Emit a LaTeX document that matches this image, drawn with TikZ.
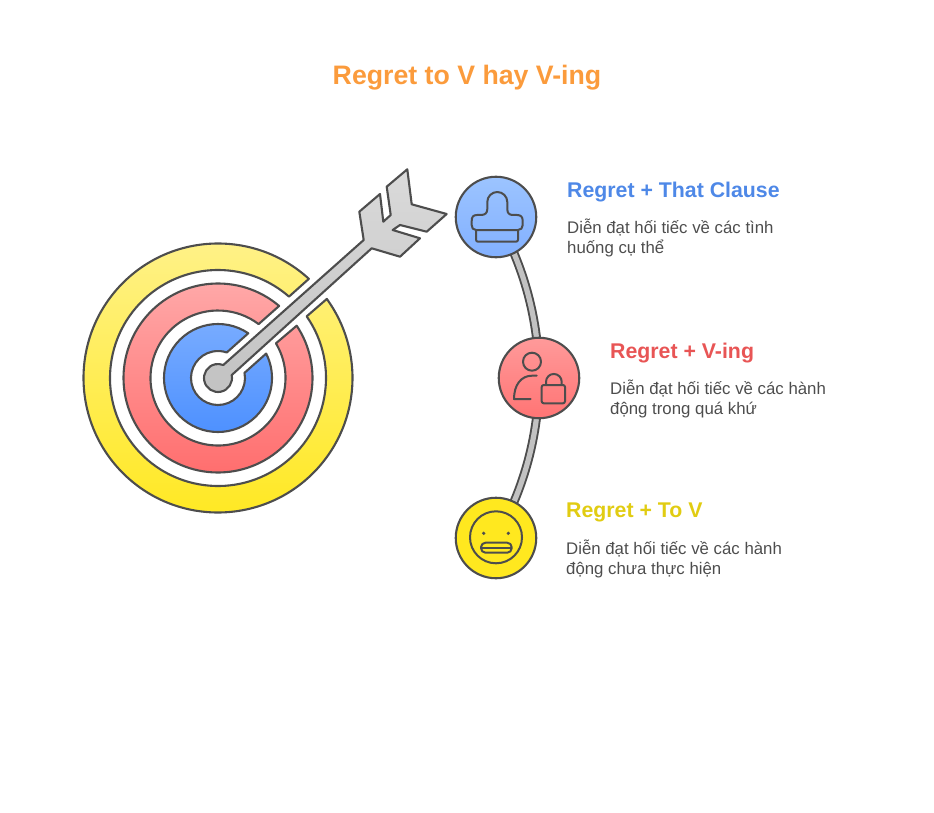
\documentclass[tikz,border=0pt]{standalone}
\usepackage{fontspec}
\setmainfont{Liberation Sans}
\usetikzlibrary{backgrounds}
\definecolor{ink}{HTML}{4D4D4D}
\definecolor{txt}{HTML}{4D4D4D}
\definecolor{ttl}{HTML}{FB9B3C}
\definecolor{hblue}{HTML}{4E88E7}
\definecolor{hred}{HTML}{E85555}
\definecolor{hyel}{HTML}{E1CC12}
\definecolor{ytop}{HTML}{FFF28C}
\definecolor{ybot}{HTML}{FFE81F}
\definecolor{rtop}{HTML}{FFABAB}
\definecolor{rbot}{HTML}{FF6B6B}
\definecolor{btop}{HTML}{7AADFF}
\definecolor{bbot}{HTML}{4B8FFF}
\definecolor{gtop}{HTML}{DADADA}
\definecolor{gbot}{HTML}{C2C2C2}
\definecolor{d1top}{HTML}{9CC4FF}
\definecolor{d1bot}{HTML}{82B0FF}
\definecolor{d2top}{HTML}{FF9A9A}
\definecolor{d2bot}{HTML}{FF7474}
\tikzset{
  x=1pt,y=1pt,
  outl/.style={draw=ink,line width=2.1pt,line join=round},
  ringy/.style={outl,top color=ytop,bottom color=ybot},
  ringr/.style={outl,top color=rtop,bottom color=rbot},
  ringb/.style={outl,top color=btop,bottom color=bbot},
  arrowshape/.style={outl,top color=gtop,bottom color=gbot},
  disc/.style={circle,outl,minimum size=80.5pt,inner sep=0pt},
  icon/.style={draw=ink,line width=2pt,line join=round,line cap=round},
  link/.style={draw=ink,line width=1.9pt,double=gbot,double distance=5.2pt},
  headtxt/.style={anchor=north west,inner sep=0pt,font=\fontsize{21.3}{26}\selectfont\bfseries},
  bodytxt/.style={anchor=north west,inner sep=0pt,text=txt,align=left,font=\fontsize{16.8}{20}\selectfont},
}
\begin{document}
\begin{tikzpicture}
\useasboundingbox (0,-813) rectangle (934,0);
% target
\begin{scope}[shift={(218,-378)}]
\path[ringy] (47.5:134.5) arc[start angle=47.5,end angle=396,radius=134.5pt] -- (394.8:108) arc[start angle=394.8,end angle=48.9,radius=108pt] -- cycle;
\path[ringr] (49.7:94.5) arc[start angle=49.7,end angle=393.6,radius=94.5pt] -- (390.9:67.5) arc[start angle=390.9,end angle=53,radius=67.5pt] -- cycle;
\path[ringb] (55.9:54) arc[start angle=55.9,end angle=386.9,radius=54pt] -- (371:27) arc[start angle=371,end angle=71,radius=27pt] -- cycle;
\path[arrowshape] (12:14) arc[start angle=12,end angle=-292,radius=14pt]
  -- (145.7,138) -- (141.3,166.3) -- (162,184) -- (165.3,156.3) -- (172.7,163) -- (168.7,191.3) -- (189.3,208.7)
  -- (193.7,173.7) -- (228.7,164) -- (208.7,146.3) -- (182,153) -- (174.7,148) -- (202,139.7) -- (182,121.3) -- (153.7,129.7) -- cycle;
\end{scope}
% discs
\node[disc,top color=d1top,bottom color=d1bot] (n1) at (496,-217) {};
\node[disc,top color=d2top,bottom color=d2bot] (n2) at (539,-378) {};
\node[disc,top color=ybot,bottom color=ybot] (n3) at (496,-538) {};
\begin{pgfonlayer}{background}
\draw[link] (n1.center) to[out=-60,in=90,looseness=0.87] (n2.center);
\draw[link] (n2.center) to[out=-90,in=60,looseness=0.87] (n3.center);
\end{pgfonlayer}
% stamp icon
\draw[icon] (487.3,-202) arc[start angle=180,end angle=0,radius=10pt]
  -- (507.3,-209) .. controls (507.3,-213) and (509,-215) .. (513,-215) -- (517,-215)
  .. controls (521,-215) and (522.7,-217) .. (522.7,-221) -- (522.7,-225) .. controls (522.7,-228) and (521,-230) .. (518,-230)
  -- (476,-230) .. controls (473,-230) and (471.7,-228) .. (471.7,-225) -- (471.7,-221)
  .. controls (471.7,-217) and (473,-215) .. (477,-215) -- (481,-215) .. controls (485,-215) and (487.3,-213) .. (487.3,-209) -- cycle;
\draw[icon,rounded corners=2pt] (476,-230) -- (476,-241.7) -- (518,-241.7) -- (518,-230);
% person + lock icon
\draw[icon] (532,-361.7) circle[radius=9pt];
\draw[icon] (536.7,-375.7) -- (532,-375.7) .. controls (521,-375.7) and (514,-385) .. (514,-399) -- (530.7,-399);
\draw[icon,rounded corners=2pt] (541.7,-385) rectangle (565,-403.3);
\draw[icon] (546,-385) -- (546,-381.8) arc[start angle=180,end angle=0,radius=7.85pt] -- (561.7,-385);
% face icon
\draw[icon] (496,-537.3) circle[radius=26pt];
\fill[ink] (483.7,-533.3) circle[radius=1.8pt] (508.3,-533.3) circle[radius=1.8pt];
\draw[icon,rounded corners=4.5pt] (481,-542.7) rectangle (511.7,-552.7);
\draw[icon] (482,-547.7) -- (510.7,-547.7);
% texts
\node[anchor=base,inner sep=0pt,text=ttl,font=\fontsize{26.7}{32}\selectfont\bfseries] (title) at (467,-84.5) {Regret to V hay V-ing};
\node[headtxt,text=hblue] (h1) at (567,-182) {Regret + That Clause};
\node[bodytxt] (b1) at (567,-218.5) {Diễn đạt hối tiếc về các tình\\huống cụ thể};
\node[headtxt,text=hred] (h2) at (610,-343) {Regret + V-ing};
\node[bodytxt] (b2) at (610,-379.5) {Diễn đạt hối tiếc về các hành\\động trong quá khứ};
\node[headtxt,text=hyel] (h3) at (566,-503) {Regret + To V};
\node[bodytxt] (b3) at (566,-539.5) {Diễn đạt hối tiếc về các hành\\động chưa thực hiện};
\end{tikzpicture}
\end{document}
